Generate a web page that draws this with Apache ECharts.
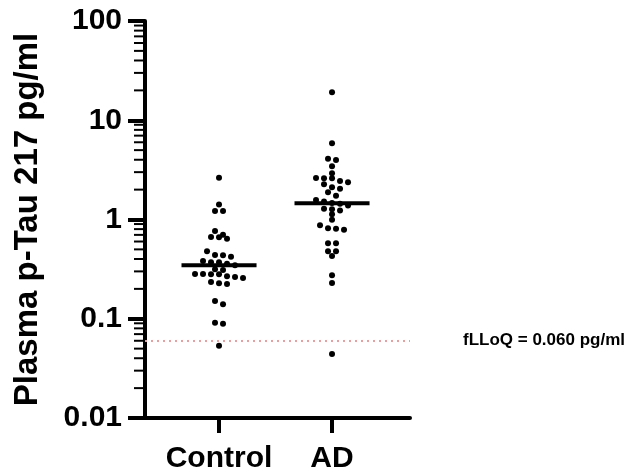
<!DOCTYPE html>
<html>
<head>
<meta charset="utf-8">
<script src="https://cdn.jsdelivr.net/npm/echarts@6/dist/echarts.min.js"></script>
<style>
html,body{margin:0;padding:0;background:#fff;}
#chart{width:626px;height:469px;}
</style>
</head>
<body>
<div id="chart"></div>
<script>
// ---- data ----
const categories = ['Control', 'AD'];
const controlValues = [2.64, 1.42, 1.22, 1.22, 0.766, 0.667, 0.641, 0.662, 0.703, 0.478, 0.439, 0.422, 0.436,
  0.382, 0.371, 0.358, 0.371, 0.345, 0.310, 0.315, 0.282, 0.282, 0.268, 0.257, 0.263, 0.280, 0.280,
  0.235, 0.224, 0.228, 0.140, 0.151, 0.0892, 0.0913, 0.0535];
const adValues = [19.1, 5.86, 3.98, 4.10, 3.44, 2.92, 2.62, 2.60, 2.37, 2.44, 2.60, 2.26, 2.04, 2.11, 1.88,
  1.74, 1.57, 1.52, 1.47, 1.44, 1.38, 1.27, 1.23, 1.28, 1.13, 0.995, 0.815, 0.789, 0.805, 0.874,
  0.576, 0.576, 0.478, 0.478, 0.429, 0.274, 0.229, 0.0442];
const lloq = 0.06;
const lloqLabel = 'fLLoQ = 0.060 pg/ml';
const yTicks = [0.01, 0.1, 1, 10, 100];
const yTickLabels = ['0.01', '0.1', '1', '10', '100'];
const yName = 'Plasma p-Tau 217 pg/ml';

// ---- helpers ----
const groups = [controlValues, adValues];
const centers = [1, 2];
const X_MIN = 0.345, X_MAX = 2.69;
function median(arr) {
  const s = arr.slice().sort((a, b) => a - b);
  const n = s.length;
  return n % 2 ? s[(n - 1) / 2] : (s[n / 2 - 1] + s[n / 2]) / 2;
}
// minor tick values (2..9 within each decade)
const minorTicks = [];
for (let e = Math.log10(yTicks[0]); e < Math.log10(yTicks[yTicks.length - 1]); e++) {
  for (let m = 2; m <= 9; m++) minorTicks.push(m * Math.pow(10, e));
}
const FONT = 'Liberation Sans, Arial, sans-serif';
const HALF = 0.332; // half width of median bar in x units
const MINOR_LEN = 11;
const GRID = {left: 145, right: 216, top: 21, bottom: 51, containLabel: false, outerBoundsMode: 'none'};

const chart = echarts.init(document.getElementById('chart'), null, {renderer: 'canvas'});

function buildOption(scatterData) {
  const series = [];
  groups.forEach((vals, gi) => {
    series.push({
      type: 'scatter', xAxisIndex: 0, yAxisIndex: 0,
      symbol: 'circle', symbolSize: 6,
      itemStyle: {color: '#000', opacity: 1},
      data: scatterData[gi], z: 2,
      markLine: gi === 0 ? {
        silent: true, symbol: 'none', animation: false,
        lineStyle: {color: '#f29b9b', type: [2, 4], width: 2, opacity: 1},
        label: {show: true, position: 'end', distance: 53, formatter: lloqLabel,
          color: '#000', fontFamily: FONT, fontWeight: 'bold', fontSize: 17},
        data: [{yAxis: lloq}]
      } : undefined
    });
  });
  groups.forEach((vals, gi) => {
    const med = median(vals);
    series.push({
      type: 'line', xAxisIndex: 0, yAxisIndex: 0, symbol: 'none', silent: true,
      lineStyle: {color: '#000', width: 4, cap: 'butt'},
      data: [[centers[gi] - HALF, med], [centers[gi] + HALF, med]], z: 5
    });
  });
  // minor log ticks on the y axis, placed through the axis scale
  series.push({
    type: 'custom', xAxisIndex: 0, yAxisIndex: 0, silent: true, clip: false, z: 1,
    data: minorTicks.map(v => [X_MIN, v]),
    renderItem: function (params, api) {
      const p = api.coord([api.value(0), api.value(1)]);
      return {
        type: 'line',
        shape: {x1: p[0] - MINOR_LEN, y1: p[1], x2: p[0], y2: p[1]},
        style: {stroke: '#000', lineWidth: 2}
      };
    }
  });
  return {
    animation: false,
    backgroundColor: '#fff',
    grid: GRID,
    xAxis: {
      type: 'value', min: X_MIN, max: X_MAX,
      axisLine: {show: true, lineStyle: {color: '#000', width: 4}},
      axisTick: {show: true, length: 15, lineStyle: {color: '#000', width: 4}, customValues: centers},
      axisLabel: {show: true, customValues: centers, margin: 26,
        formatter: v => categories[Math.round(v) - 1] || '',
        color: '#000', fontFamily: FONT, fontWeight: 'bold', fontSize: 30},
      splitLine: {show: false}
    },
    yAxis: {
      type: 'log', logBase: 10, min: yTicks[0], max: yTicks[yTicks.length - 1],
      position: 'left',
      name: yName, nameLocation: 'middle', nameGap: 101,
      nameTextStyle: {color: '#000', fontFamily: FONT, fontWeight: 'bold', fontSize: 33},
      axisLine: {show: true, lineStyle: {color: '#000', width: 4}},
      axisTick: {show: true, length: 17, lineStyle: {color: '#000', width: 4}},
      axisLabel: {show: true, margin: 23,
        formatter: v => { const i = yTicks.findIndex(t => Math.abs(Math.log10(t) - Math.log10(v)) < 1e-6); return i >= 0 ? yTickLabels[i] : ''; },
        color: '#000', fontFamily: FONT, fontWeight: 'bold', fontSize: 30},
      splitLine: {show: false}
    },
    series: series
  };
}

// first pass: points on the group centre
const initial = groups.map((vals, gi) => vals.map(v => [centers[gi], v]));
chart.setOption(buildOption(initial));

// second pass: row-based swarm layout computed from pixel positions
const stepPx = 8;
const rowTol = 4;
const xUnit = chart.convertToPixel({xAxisIndex: 0}, 2) - chart.convertToPixel({xAxisIndex: 0}, 1);
const swarm = groups.map((vals, gi) => {
  const pts = vals.map((v, i) => ({v: v, y: chart.convertToPixel({yAxisIndex: 0}, v), i: i}));
  pts.sort((a, b) => a.y - b.y);
  const rows = [];
  let cur = null;
  pts.forEach(p => {
    if (cur) {
      const mean = cur.reduce((s, q) => s + q.y, 0) / cur.length;
      if (Math.abs(p.y - mean) < rowTol) { cur.push(p); return; }
    }
    cur = [p];
    rows.push(cur);
  });
  const out = [];
  rows.forEach(row => {
    const n = row.length;
    row.forEach((p, k) => {
      const off = (k - (n - 1) / 2) * stepPx;
      out.push([centers[gi] + off / xUnit, p.v]);
    });
  });
  return out;
});
chart.setOption(buildOption(swarm));
</script>
</body>
</html>
